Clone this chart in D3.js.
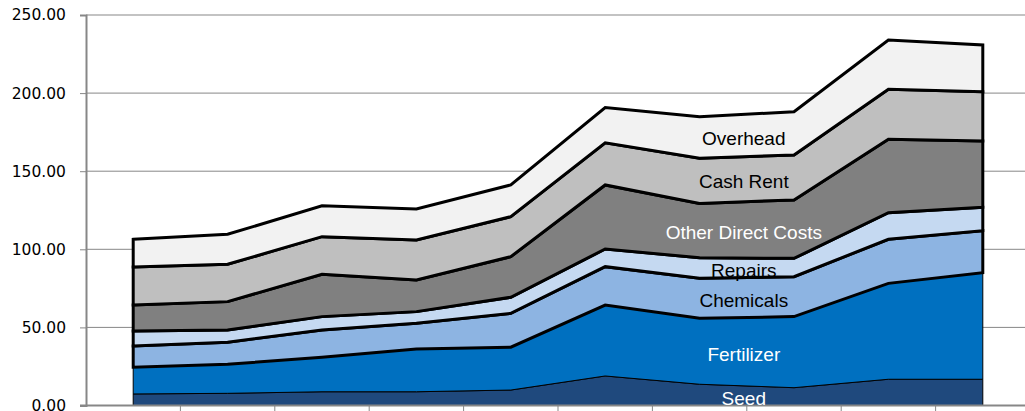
<!DOCTYPE html>
<html>
<head>
<meta charset="utf-8">
<script src="https://d3js.org/d3.v7.min.js"></script>
<style>
  body { margin: 0; background: #fff; }
  svg { display: block; }
</style>
</head>
<body>
<div id="chart"></div>
<script>
// Category axis (labels fall below the visible frame)
var categories = ["1", "2", "3", "4", "5", "6", "7", "8", "9", "10"];

// Series values, bottom to top
var seriesNames = ["Seed", "Fertilizer", "Chemicals", "Repairs", "Other Direct Costs", "Cash Rent", "Overhead"];
var seed = [7.4, 7.8, 8.8, 8.8, 9.9, 18.9, 13.6, 11.4, 16.8, 16.8];
var fertilizer = [17.1, 18.6, 22.1, 27.4, 27.4, 45.4, 42.2, 45.5, 61.4, 68.2];
var chemicals = [13.6, 14.1, 17.4, 16.4, 21.7, 24.6, 25.6, 25.6, 28.2, 26.9];
var repairs = [9.6, 7.8, 8.6, 7.5, 10.3, 11.3, 13.2, 11.7, 17.0, 15.0];
var otherDirect = [16.6, 18.2, 27.1, 20.2, 26.0, 41.0, 34.8, 37.4, 47.0, 42.4];
var cashRent = [24.4, 23.9, 24.1, 25.7, 25.6, 27.0, 28.9, 28.8, 32.0, 31.6];
var overhead = [17.7, 19.2, 19.8, 19.8, 20.3, 22.5, 26.6, 27.7, 31.6, 29.9];

var yTicks = [0, 50, 100, 150, 200, 250];

// styles per series
var fills = ["#1f497d", "#0070c0", "#8db4e2", "#c5d9f1", "#808080", "#bfbfbf", "#f2f2f2"];
var labelColors = ["#fff", "#fff", "#000", "#000", "#fff", "#000", "#000"];
var strokeWidths = [1, 1, 3, 3, 3, 3, 3];

var svgWidth = 1025;
var svgHeight = 411;
var chartMargin = { top: 15, left: 86 };
var plotRight = 1030;
var plotBottom = 405.5;

var svg = d3.select("#chart")
  .append("svg")
  .attr("width", svgWidth)
  .attr("height", svgHeight);

// build table for the stack
var allSeries = [seed, fertilizer, chemicals, repairs, otherDirect, cashRent, overhead];
var table = categories.map(function(c, i) {
  var row = { category: c };
  seriesNames.forEach(function(name, k) { row[name] = allSeries[k][i]; });
  return row;
});

var stacked = d3.stack().keys(seriesNames)(table);

var xScale = d3.scalePoint()
  .domain(categories)
  .range([chartMargin.left, plotRight])
  .padding(0.5);

var xBand = d3.scaleBand()
  .domain(categories)
  .range([chartMargin.left, plotRight]);

var yScale = d3.scaleLinear()
  .domain([0, 250])
  .range([plotBottom, chartMargin.top]);

// gridlines
svg.append("g")
  .selectAll("line")
  .data(yTicks)
  .enter()
  .append("line")
  .attr("x1", chartMargin.left)
  .attr("x2", svgWidth)
  .attr("y1", d => yScale(d))
  .attr("y2", d => yScale(d))
  .attr("stroke", "#878787")
  .attr("stroke-width", 1);

// areas
var area = d3.area()
  .x(d => xScale(d.data.category))
  .y0(d => yScale(d[0]))
  .y1(d => yScale(d[1]));

svg.append("g")
  .selectAll("path")
  .data(stacked)
  .enter()
  .append("path")
  .attr("d", d => area(d) + "Z")
  .attr("fill", (d, i) => fills[i])
  .attr("stroke", "#000")
  .attr("stroke-width", (d, i) => strokeWidths[i])
  .attr("stroke-linejoin", "miter");

// y axis
var leftAxis = d3.axisLeft(yScale)
  .tickValues(yTicks)
  .tickSize(6)
  .tickPadding(14)
  .tickFormat(d3.format(".2f"));

var yAxis = svg.append("g")
  .attr("transform", `translate(${chartMargin.left}, 0)`)
  .call(leftAxis);
yAxis.select(".domain").attr("stroke", "#878787").attr("stroke-width", 2);
yAxis.selectAll(".tick line").attr("stroke", "#878787");
yAxis.selectAll(".tick text")
  .attr("font-family", "DejaVu Sans, sans-serif")
  .attr("font-size", "15.5px")
  .attr("fill", "#000");

// x axis, ticks between categories
var xAxisG = svg.append("g");
xAxisG.append("line")
  .attr("x1", chartMargin.left - 6)
  .attr("x2", svgWidth)
  .attr("y1", plotBottom)
  .attr("y2", plotBottom)
  .attr("stroke", "#878787")
  .attr("stroke-width", 2);
xAxisG.selectAll(".xtick")
  .data(categories)
  .enter()
  .append("line")
  .attr("class", "xtick")
  .attr("x1", d => xBand(d) + xBand.bandwidth())
  .attr("x2", d => xBand(d) + xBand.bandwidth())
  .attr("y1", plotBottom)
  .attr("y2", plotBottom + 6)
  .attr("stroke", "#878787");

// series labels placed between the 7th and 8th points
var li = 6;
svg.append("g")
  .selectAll("text")
  .data(stacked)
  .enter()
  .append("text")
  .attr("x", (xScale(categories[li]) + xScale(categories[li + 1])) / 2 - 3)
  .attr("y", d => yScale((d[li][0] + d[li][1] + d[li + 1][0] + d[li + 1][1]) / 4))
  .attr("dy", "0.48em")
  .attr("text-anchor", "middle")
  .attr("font-family", "Liberation Sans, Arial, sans-serif")
  .attr("font-size", "19px")
  .attr("fill", (d, i) => labelColors[i])
  .text(d => d.key);
</script>
</body>
</html>
